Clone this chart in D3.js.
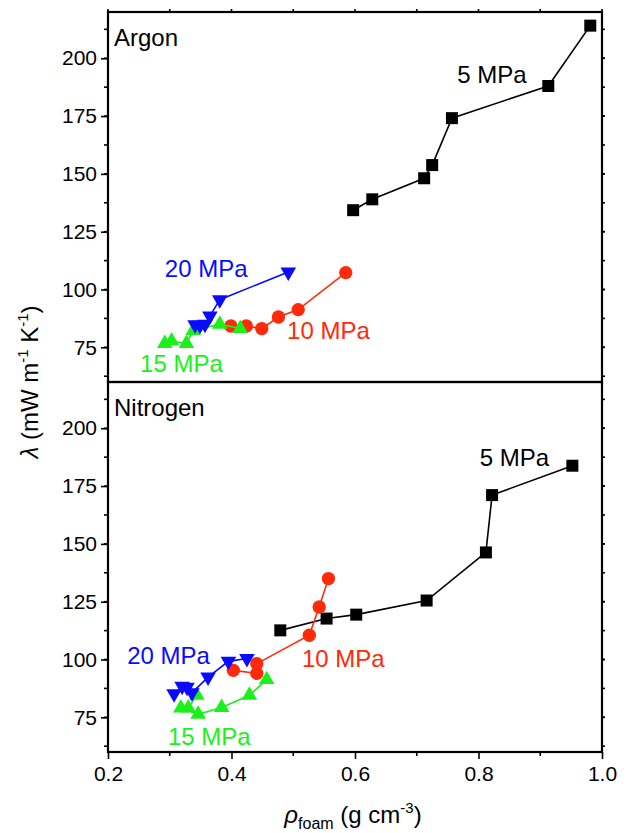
<!DOCTYPE html>
<html><head><meta charset="utf-8">
<script src="https://cdn.jsdelivr.net/npm/d3@7"></script>
<style>body{margin:0;background:#fff}svg{display:block}text{font-family:"Liberation Sans",Arial,sans-serif}</style>
</head><body>
<script>
// ---- data ----
const xTicks = [0.2, 0.4, 0.6, 0.8, 1.0];
const yTicks = [75, 100, 125, 150, 175, 200];
const panels = ["Argon", "Nitrogen"];
const pressures = ["5 MPa", "10 MPa", "15 MPa", "20 MPa"];

const argon5  = [[0.597,134.3],[0.628,139.0],[0.712,148.1],[0.725,153.8],[0.757,174.1],[0.913,188.0],[0.981,214.1]];
const argon10 = [[0.399,84.2],[0.424,84.2],[0.449,83.1],[0.476,88.1],[0.508,91.3],[0.585,107.3]];
const argon15 = [[0.292,76.6],[0.303,77.7],[0.327,76.6],[0.338,82.3],[0.381,85.0],[0.414,83.1]];
const argon20 = [[0.341,84.8],[0.349,84.5],[0.357,85.0],[0.365,88.5],[0.381,95.6],[0.492,107.6]];

const nitro5  = [[0.479,112.6],[0.554,117.7],[0.602,119.4],[0.716,125.5],[0.812,146.3],[0.822,171.1],[0.952,183.8]];
const nitro10 = [[0.403,95.3],[0.441,94.0],[0.441,98.2],[0.526,110.5],[0.542,122.7],[0.557,135.0]];
const nitro15 = [[0.344,84.5],[0.330,79.0],[0.318,79.0],[0.346,76.3],[0.384,79.2],[0.429,84.5],[0.457,91.3]];
const nitro20 = [[0.307,85.2],[0.320,88.4],[0.328,88.0],[0.336,85.6],[0.362,92.4],[0.395,99.2],[0.425,100.4]];

// label anchors (data units): [series, x, y, anchor]
const argonLabels = [["5 MPa",0.878,189.3,"end"],["20 MPa",0.292,105.4],["10 MPa",0.490,78.6],["15 MPa",0.252,64.3]];
const nitroLabels = [["5 MPa",0.802,183.7],["20 MPa",0.231,98.1],["10 MPa",0.514,96.8],["15 MPa",0.297,63.0]];

// ---- layout ----
const W = 629, H = 833;
const L = 108, R = 602, T = 12, MID = 382, B = 752;
const svg = d3.select("body").append("svg").attr("width", W).attr("height", H);

const x = d3.scaleLinear().domain([0.2, 1.0]).range([L, R]);
const yTop = d3.scaleLinear().domain([60, 220]).range([MID, T]);
const yBot = d3.scaleLinear().domain([60, 220]).range([B, MID]);

const colors = {"5 MPa":"#000000","10 MPa":"#ff2a0a","15 MPa":"#1cf01c","20 MPa":"#0a0aff"};
const symbols = {
  "5 MPa":{type:d3.symbolSquare,size:144,rot:0},
  "10 MPa":{type:d3.symbolCircle,size:140,rot:0},
  "15 MPa":{type:d3.symbolTriangle,size:105,rot:0},
  "20 MPa":{type:d3.symbolTriangle,size:105,rot:180}
};

const minorY = d3.range(62.5, 220, 12.5);
const minorX = d3.range(0.3, 1.0, 0.2);
const allX = d3.range(0.2, 1.001, 0.1);

function drawPanel(y, name, series, labels) {
  const g = svg.append("g");
  const ax = d3.axisLeft(y).tickValues(yTicks).tickSize(7).tickPadding(4).tickFormat(d3.format("d"));
  const ga = g.append("g").attr("transform", `translate(${L},0)`).call(ax);
  ga.select(".domain").remove();
  ga.selectAll("line").attr("stroke","#000").attr("stroke-width",1.6);
  ga.selectAll("text").attr("font-size",21).attr("fill","#000").style("font-family","Liberation Sans, Arial");
  g.append("g").selectAll("line").data(minorY).join("line")
    .attr("x1", L-4).attr("x2", L).attr("y1", d=>y(d)).attr("y2", d=>y(d))
    .attr("stroke","#000").attr("stroke-width",1.6);
  g.append("g").selectAll("line").data(yTicks.concat(minorY)).join("line")
    .attr("x1", R).attr("x2", R+3).attr("y1", d=>y(d)).attr("y2", d=>y(d))
    .attr("stroke","#000").attr("stroke-width",1.6);

  series.forEach(([p, pts]) => {
    const c = colors[p];
    g.append("path").datum(pts)
      .attr("d", d3.line().x(d=>x(d[0])).y(d=>y(d[1])))
      .attr("fill","none").attr("stroke",c).attr("stroke-width",1.6);
    const s = symbols[p];
    g.append("g").selectAll("path").data(pts).join("path")
      .attr("d", d3.symbol().type(s.type).size(s.size))
      .attr("transform", d=>`translate(${x(d[0])},${y(d[1])}) rotate(${s.rot})`)
      .attr("fill", c);
  });

  labels.forEach(([p, lx, ly, anchor]) => {
    g.append("text").attr("x", x(lx)).attr("y", y(ly)).attr("text-anchor", anchor || "start")
      .attr("font-size", 24).attr("fill", colors[p]).text(p);
  });
  g.append("text").attr("x", L+6).attr("y", y(220) + 34).attr("font-size", 24).attr("fill","#000").text(name);

  g.append("rect").attr("x", L).attr("y", y(220)).attr("width", R-L).attr("height", y(60)-y(220))
    .attr("fill","none").attr("stroke","#000").attr("stroke-width",2.2);
}

drawPanel(yTop, panels[0],
  [["5 MPa",argon5],["10 MPa",argon10],["15 MPa",argon15],["20 MPa",argon20]], argonLabels);
drawPanel(yBot, panels[1],
  [["5 MPa",nitro5],["10 MPa",nitro10],["15 MPa",nitro15],["20 MPa",nitro20]], nitroLabels);

svg.append("g").selectAll("line").data(allX).join("line")
  .attr("x1", d=>x(d)).attr("x2", d=>x(d)).attr("y1", T-3).attr("y2", T)
  .attr("stroke","#000").attr("stroke-width",1.6);

const xa = d3.axisBottom(x).tickValues(xTicks).tickSize(7).tickPadding(7).tickFormat(d3.format(".1f"));
const gx = svg.append("g").attr("transform", `translate(0,${B})`).call(xa);
gx.select(".domain").remove();
gx.selectAll("line").attr("stroke","#000").attr("stroke-width",1.6);
gx.selectAll("text").attr("font-size",21).attr("fill","#000").style("font-family","Liberation Sans, Arial");
svg.append("g").selectAll("line").data(minorX).join("line")
  .attr("x1", d=>x(d)).attr("x2", d=>x(d)).attr("y1", B).attr("y2", B+4)
  .attr("stroke","#000").attr("stroke-width",1.6);

const xt = svg.append("text").attr("x", (L+R)/2 - 2).attr("y", 823).attr("text-anchor","middle").attr("font-size",24).attr("fill","#000");
xt.append("tspan").attr("font-style","italic").text("ρ");
xt.append("tspan").attr("font-size",16).attr("dy",6).text("foam");
xt.append("tspan").attr("dy",-6).text(" (g cm");
xt.append("tspan").attr("font-size",15).attr("dy",-10).text("-3");
xt.append("tspan").attr("dy",10).text(")");

const yt = svg.append("text").attr("transform", `translate(38,${MID}) rotate(-90)`).attr("text-anchor","middle").attr("font-size",24).attr("fill","#000");
yt.append("tspan").attr("font-style","italic").text("λ");
yt.append("tspan").text(" (mW m");
yt.append("tspan").attr("font-size",15).attr("dy",-10).text("-1");
yt.append("tspan").attr("dy",10).text(" K");
yt.append("tspan").attr("font-size",15).attr("dy",-10).text("-1");
yt.append("tspan").attr("dy",10).text(")");
</script>
</body></html>
